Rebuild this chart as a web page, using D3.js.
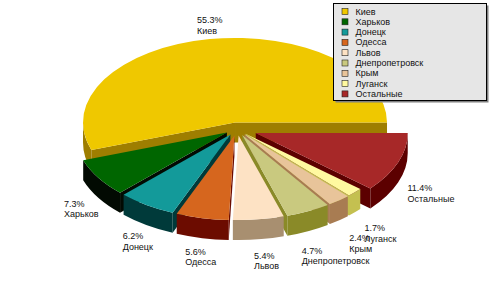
<!doctype html>
<html>
    <head>
        <meta charset="utf-8">
        <title>Пирог по регионам</title>
        <style>
            body {
                margin: 0;
                overflow: hidden;
                background: #fff;
            }
            text {
                font-family: "Liberation Sans", Arial, sans-serif;
                font-size: 9px;
                fill: #111;
            }
        </style>
    </head>
    <body>
        <script src="https://cdn.jsdelivr.net/npm/d3@7"></script>
        <script type="module">

            const regions = ['Киев', 'Харьков', 'Донецк', 'Одесса', 'Львов', 'Днепропетровск', 'Крым', 'Луганск', 'Остальные'];
            const shares = [55.3, 7.3, 6.2, 5.6, 5.4, 4.7, 2.4, 1.7, 11.4];
            const topColors = ['#efc800', '#006600', '#139a9a', '#d6661e', '#fde2c4', '#c9c97f', '#e8c49a', '#fff9a0', '#a72828'];
            const wallColors = ['#9e7e00', '#020a02', '#003a3a', '#6c0c00', '#a88f70', '#8a8a28', '#a87c52', '#c4c050', '#5c0000'];

            const width = 500;
            const height = 286;

            const cx = 237, cy = 129;
            const rx = 152, ry = 84.5;
            const depth = 20;

            const svg = d3.select('body')
                .append('svg')
                .attr('width', width)
                .attr('height', height);

            const data = regions.map((name, i) => ({ name, value: shares[i], i }));

            const pie = d3.pie()
                .sort(null)
                .value(d => d.value)
                .startAngle(0)
                .endAngle(2 * Math.PI);

            // slices run counter-clockwise from 3 o'clock, so flip the angle for screen space
            const arcs = pie(data).map(a => {
                const p1 = -a.endAngle;
                const p2 = -a.startAngle;
                const mid = (p1 + p2) / 2;
                const ex = a.data.name === 'Остальные' ? 20 : 12;
                return {
                    ...a,
                    p1, p2, mid,
                    vx: cx + ex * Math.cos(mid),
                    vy: cy + ex * Math.sin(mid) * ry / rx
                };
            });

            const pt = (s, phi, dz = 0) => [s.vx + rx * Math.cos(phi), s.vy + ry * Math.sin(phi) + dz];

            function topPath(s) {
                const a = pt(s, s.p1), b = pt(s, s.p2);
                const large = (s.p2 - s.p1) > Math.PI ? 1 : 0;
                return `M${s.vx},${s.vy}L${a}A${rx},${ry} 0 ${large} 1 ${b}Z`;
            }

            function facePath(s, phi) {
                const e = pt(s, phi);
                return `M${s.vx},${s.vy}L${e}L${e[0]},${e[1] + depth}L${s.vx},${s.vy + depth}Z`;
            }

            // front half of the rim (sin > 0) is the only part that shows
            function wallPaths(s) {
                const out = [];
                for (let k = -2; k <= 1; k++) {
                    const lo = Math.max(s.p1, k * 2 * Math.PI);
                    const hi = Math.min(s.p2, k * 2 * Math.PI + Math.PI);
                    if (hi - lo > 1e-4) {
                        const a = pt(s, lo), b = pt(s, hi);
                        const a2 = pt(s, lo, depth), b2 = pt(s, hi, depth);
                        out.push(`M${a}A${rx},${ry} 0 0 1 ${b}L${b2}A${rx},${ry} 0 0 0 ${a2}Z`);
                    }
                }
                return out;
            }

            const order = arcs.slice().sort((a, b) => Math.sin(a.mid) - Math.sin(b.mid));

            const pieG = svg.append('g');

            order.forEach(s => {
                const g = pieG.append('g');
                const wc = wallColors[s.data.i];
                if (Math.cos(s.p1) < 0) {
                    g.append('path').attr('d', facePath(s, s.p1)).attr('fill', wc);
                }
                if (Math.cos(s.p2) > 0) {
                    g.append('path').attr('d', facePath(s, s.p2)).attr('fill', wc);
                }
                wallPaths(s).forEach(d => g.append('path').attr('d', d).attr('fill', wc));
                g.append('path').attr('d', topPath(s)).attr('fill', topColors[s.data.i]);
            });

            // data labels outside the rim
            const fmt = d => d.toFixed(1) + '%';
            const lineH = 10.5;
            const labelG = svg.append('g');

            arcs.forEach(s => {
                const c = Math.cos(s.mid), sn = Math.sin(s.mid);
                // front-right labels sit a little further out (perspective)
                const push = sn > 0 && c > 0 ? 20 * c * sn * sn : 0;
                const px = s.vx + (rx + 6) * c + 3 + push;
                const py = s.vy + (ry + 6) * sn + (sn > 0 ? depth : 0) + 3 + push;
                const t = labelG.append('text');
                t.append('tspan').attr('x', 0).attr('y', 8).text(fmt(s.data.value));
                t.append('tspan').attr('x', 0).attr('y', 8 + lineH).text(s.data.name);
                const w = t.node().getBBox().width;
                const h = lineH * 2;
                const left = px - w * (1 - c) / 2;
                const top = py - h * (1 - sn) / 2;
                t.attr('transform', `translate(${left},${top})`);
            });

            // legend
            const lg = svg.append('g').attr('transform', 'translate(333.5,3.5)');
            const lw = 153, lh = 97;
            lg.append('rect')
                .attr('x', 2).attr('y', 2)
                .attr('width', lw).attr('height', lh)
                .attr('fill', '#808080');
            lg.append('rect')
                .attr('width', lw).attr('height', lh)
                .attr('fill', '#e6e6e6')
                .attr('stroke', '#000')
                .attr('stroke-width', 1);

            const item = lg.selectAll('g.item')
                .data(data)
                .join('g')
                .attr('class', 'item')
                .attr('transform', (d, i) => `translate(8,${7.5 + i * 10.3})`);
            item.append('rect')
                .attr('x', 0.5).attr('y', -2.5)
                .attr('width', 6).attr('height', 6)
                .attr('fill', d => topColors[d.i])
                .attr('stroke', '#222')
                .attr('stroke-width', 0.6);
            item.append('text')
                .attr('x', 14)
                .attr('y', 3.5)
                .text(d => d.name);

        </script>
    </body>
</html>
